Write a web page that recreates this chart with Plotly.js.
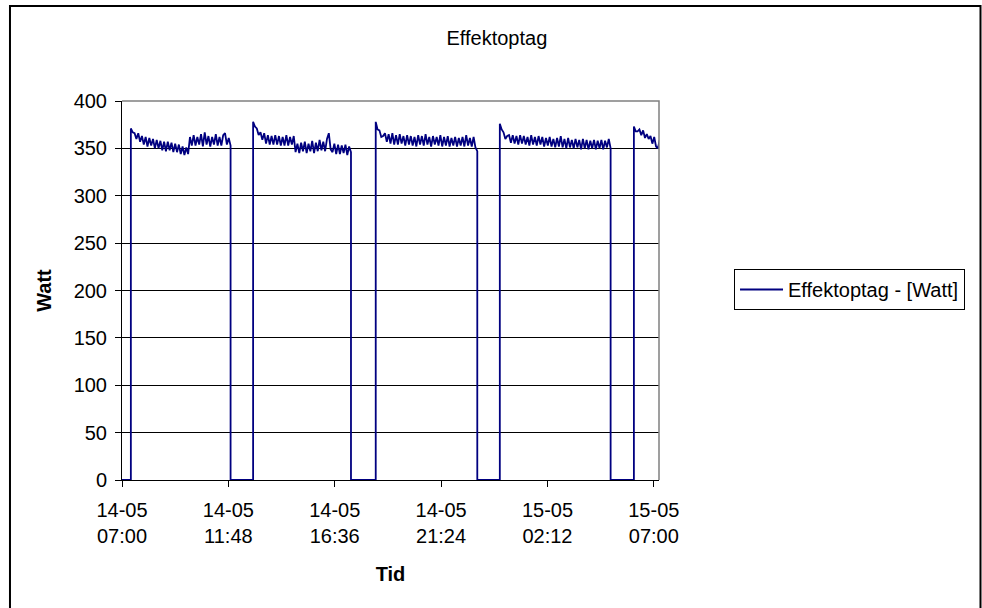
<!DOCTYPE html>
<html>
<head>
<meta charset="utf-8">
<script src="https://cdn.plot.ly/plotly-3.0.1.min.js"></script>
<style>
  html, body { margin: 0; padding: 0; background: #fff; }
  #chart { width: 982px; height: 608px; }
</style>
</head>
<body>
<div id="chart"></div>
<script>
// Power draw log: readings every 5 minutes while the unit runs, 0 W while it is off.
const STEP_MIN = 5;
const axisStart = '2009-05-14 07:00';
const axisEnd = '2009-05-15 07:14';

// Time each running period begins
const runStarts = [
  '2009-05-14 07:24',
  '2009-05-14 12:55',
  '2009-05-14 18:27',
  '2009-05-15 00:03',
  '2009-05-15 06:06'
];

// Readings in watts for each running period
const run1 = [371, 367, 366, 360, 366, 357, 363, 354, 362, 352, 361, 353, 360, 350, 359, 350, 358, 348, 357, 347,
  357, 348, 356, 346, 355, 346, 354, 344, 352, 343, 351, 344, 362, 353, 364, 353, 362, 354, 365, 352,
  367, 354, 363, 352, 362, 354, 365, 353, 362, 353, 364, 366, 354, 361, 353];
const run2 = [378, 373, 371, 364, 367, 359, 366, 355, 364, 354, 363, 354, 364, 354, 363, 353, 362, 353, 364, 353,
  362, 354, 363, 346, 355, 345, 356, 347, 357, 345, 355, 347, 358, 345, 356, 347, 359, 348, 357, 347,
  360, 366, 349, 346, 355, 344, 354, 344, 353, 345, 354, 343, 352, 346];
const run3 = [378, 370, 369, 362, 363, 366, 357, 365, 355, 366, 354, 364, 354, 365, 355, 363, 353, 364, 354, 363,
  353, 362, 352, 364, 354, 363, 353, 365, 354, 362, 352, 363, 354, 362, 353, 364, 352, 362, 353, 363,
  352, 361, 353, 362, 352, 361, 353, 362, 352, 364, 353, 361, 352, 362, 351, 347];
const run4 = [376, 370, 367, 360, 363, 364, 356, 364, 355, 363, 354, 364, 355, 363, 354, 362, 353, 364, 354, 362,
  353, 363, 354, 362, 352, 361, 353, 362, 352, 360, 351, 361, 352, 363, 351, 360, 350, 361, 351, 359,
  350, 360, 351, 359, 349, 360, 350, 359, 349, 358, 350, 359, 349, 358, 350, 359, 349, 358, 351, 360, 350];
const run5 = [373, 368, 368, 370, 364, 369, 361, 365, 360, 363, 355, 362, 352, 350, 359];
const runs = [run1, run2, run3, run4, run5];

// X axis ticks every 4 h 48 min
const tickTimes = ['2009-05-14 07:00', '2009-05-14 11:48', '2009-05-14 16:36',
  '2009-05-14 21:24', '2009-05-15 02:12', '2009-05-15 07:00'];
const tickText = ['14-05<br>07:00', '14-05<br>11:48', '14-05<br>16:36',
  '14-05<br>21:24', '15-05<br>02:12', '15-05<br>07:00'];

function toMs(s) {
  const [d, t] = s.split(' ');
  const [Y, M, D] = d.split('-').map(Number);
  const [h, m] = t.split(':').map(Number);
  return Date.UTC(Y, M - 1, D, h, m);
}

// Build the step-like series: off (0 W) between running periods
const xs = [toMs(axisStart)];
const ys = [0];
runs.forEach((vals, i) => {
  const t0 = toMs(runStarts[i]);
  xs.push(t0); ys.push(0);
  vals.forEach((v, k) => { xs.push(t0 + k * STEP_MIN * 60000); ys.push(v); });
  if (i < runs.length - 1) {
    xs.push(t0 + (vals.length - 1) * STEP_MIN * 60000); ys.push(0);
  }
});

const FONT = 'Liberation Sans, Arial, sans-serif';

const trace = {
  type: 'scatter',
  mode: 'lines',
  x: xs,
  y: ys,
  name: 'Effektoptag - [Watt]',
  line: { color: '#000080', width: 1.8 }
};

const layout = {
  width: 982,
  height: 608,
  margin: { l: 122, r: 323, t: 101, b: 128 },
  paper_bgcolor: '#fff',
  plot_bgcolor: '#fff',
  font: { family: FONT, size: 20, color: '#000' },
  title: {
    text: 'Effektoptag',
    font: { family: FONT, size: 20, color: '#000' },
    xref: 'container', x: 0.506, xanchor: 'center',
    yref: 'container', y: 0.9375, yanchor: 'middle'
  },
  xaxis: {
    type: 'date',
    range: [toMs(axisStart), toMs(axisEnd)],
    tickmode: 'array',
    tickvals: tickTimes.map(toMs),
    ticktext: tickText,
    ticks: 'outside', ticklen: 6, tickwidth: 1, tickcolor: '#000',
    ticklabelstandoff: 6,
    showline: true, linecolor: '#000', linewidth: 1,
    showgrid: false, zeroline: false,
    tickfont: { family: FONT, size: 20, color: '#000' },
    title: { text: '<b>Tid</b>', font: { family: FONT, size: 20, color: '#000' }, standoff: 20 }
  },
  yaxis: {
    range: [0, 400],
    dtick: 50,
    ticks: 'outside', ticklen: 6, tickwidth: 1, tickcolor: '#000',
    ticklabelstandoff: 4,
    showline: true, linecolor: '#000', linewidth: 1,
    showgrid: true, gridcolor: '#000', gridwidth: 1,
    zeroline: false,
    tickfont: { family: FONT, size: 20, color: '#000' },
    title: { text: '<b>Watt</b>', font: { family: FONT, size: 20, color: '#000' }, standoff: 16 }
  },
  showlegend: true,
  legend: {
    x: 1.1397, xanchor: 'left',
    y: 0.5026, yanchor: 'middle',
    bordercolor: '#000', borderwidth: 1,
    bgcolor: '#fff',
    itemwidth: 43,
    font: { family: FONT, size: 20, color: '#000' }
  },
  shapes: [
    // top and right edges of the plot area
    { type: 'path', xref: 'paper', yref: 'paper', path: 'M0,1 L1,1 L1,0',
      line: { color: '#808080', width: 1.5 }, layer: 'above' },
    // outer chart frame
    { type: 'rect', xref: 'paper', yref: 'paper',
      x0: -0.2086, x1: 1.5987, y0: -0.36, y1: 1.2507,
      line: { color: '#000', width: 2 }, fillcolor: 'rgba(0,0,0,0)', layer: 'below' }
  ]
};

Plotly.newPlot('chart', [trace], layout, { displayModeBar: false, staticPlot: true });
</script>
</body>
</html>
